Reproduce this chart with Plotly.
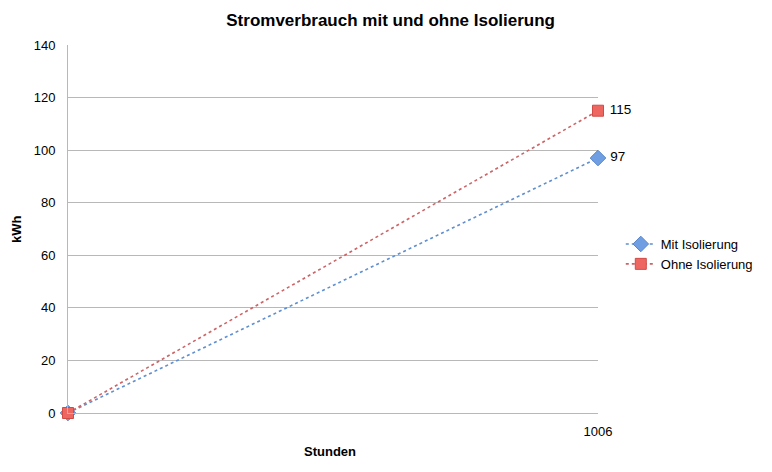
import plotly.graph_objects as go

title = "Stromverbrauch mit und ohne Isolierung"
x_label = "Stunden"
y_label = "kWh"
hours = [0, 1006]
mit_isolierung = [0, 97]
ohne_isolierung = [0, 115]
series_names = ["Mit Isolierung", "Ohne Isolierung"]
y_ticks = [0, 20, 40, 60, 80, 100, 120, 140]
x_ticks = [1006]

FONT = "Liberation Sans, Arial, sans-serif"

def labels(vals):
    return [""] * (len(vals) - 1) + [" " + str(vals[-1])]

fig = go.Figure()
fig.add_trace(go.Scatter(
    x=hours, y=mit_isolierung, name=series_names[0],
    mode="lines+markers+text",
    line=dict(color="#5f8fcf", width=1.6, dash="dot"),
    marker=dict(symbol="diamond", size=12, color="#6f9fe2",
                line=dict(color="#5a86c8", width=1)),
    text=labels(mit_isolierung), textposition="middle right",
    textfont=dict(size=13.5, color="black", family=FONT),
    cliponaxis=False,
))
fig.add_trace(go.Scatter(
    x=hours, y=ohne_isolierung, name=series_names[1],
    mode="lines+markers+text",
    line=dict(color="#cc6466", width=1.6, dash="dot"),
    marker=dict(symbol="square", size=11, color="#ee6660",
                line=dict(color="#d04a46", width=1)),
    text=labels(ohne_isolierung), textposition="middle right",
    textfont=dict(size=13.5, color="black", family=FONT),
    cliponaxis=False,
))

fig.update_layout(
    width=772, height=472,
    margin=dict(l=68, r=174, t=45, b=59),
    paper_bgcolor="white", plot_bgcolor="white",
    font=dict(family=FONT, size=13, color="black"),
    title=dict(text="<b>" + title + "</b>", x=0.506, xanchor="center",
               y=0.957, yanchor="middle",
               font=dict(size=17, family=FONT, color="black")),
    showlegend=True,
    legend=dict(x=1.043, xanchor="left", y=0.432, yanchor="middle",
                font=dict(size=13, family=FONT, color="black"),
                bgcolor="rgba(0,0,0,0)", tracegroupgap=0),
    xaxis=dict(range=[0, 1006], tickvals=x_ticks, ticktext=[str(v) for v in x_ticks],
               showgrid=False, zeroline=False, showline=True,
               linecolor="#b8b8b8", linewidth=1, ticks="", ticklen=0,
               ticklabelstandoff=6,
               tickfont=dict(size=13, color="black")),
    yaxis=dict(range=[0, 140], tickvals=y_ticks, showgrid=True,
               gridcolor="#b8b8b8", gridwidth=1, zeroline=False,
               showline=True, linecolor="#b8b8b8", linewidth=1,
               ticks="", ticklen=0, ticklabelstandoff=9,
               tickfont=dict(size=13, color="black")),
    annotations=[
        dict(text="<b>" + y_label + "</b>", xref="paper", yref="paper",
             x=-0.098, y=0.5, xanchor="center", yanchor="middle",
             textangle=-90, showarrow=False, font=dict(size=13, family=FONT)),
        dict(text="<b>" + x_label + "</b>", xref="paper", yref="paper",
             x=0.495, y=-0.105, xanchor="center", yanchor="middle",
             showarrow=False, font=dict(size=13, family=FONT)),
    ],
)

fig.write_html("out.html")
